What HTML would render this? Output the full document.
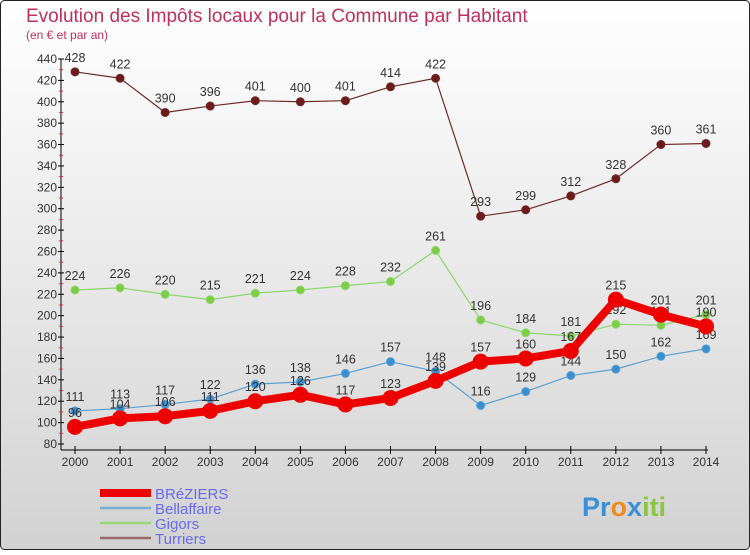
<!DOCTYPE html>
<html><head><meta charset="utf-8"><style>
body{margin:0;width:750px;height:550px;overflow:hidden;font-family:"Liberation Sans",sans-serif}
</style></head><body>
<svg width="750" height="550" xmlns="http://www.w3.org/2000/svg">
<defs><linearGradient id="bg" x1="0" y1="0" x2="0" y2="1"><stop offset="0" stop-color="#ffffff"/><stop offset="1" stop-color="#d2d2d2"/></linearGradient></defs>
<rect x="0.5" y="0.5" width="749" height="549" rx="4" fill="url(#bg)" stroke="#222"/>
<text x="26" y="22" font-size="19" fill="#c0305a">Evolution des Impôts locaux pour la Commune par Habitant</text>
<text x="26" y="39" font-size="12" fill="#c0305a">(en € et par an)</text>
<g id="axes"></g>
<g id="series"></g>
<g id="legend"></g>
<text x="582" y="516" font-size="27" font-weight="bold" fill="#3b8fd6">Pr<tspan fill="#f08c1c">o</tspan><tspan fill="#3b8fd6">x</tspan><tspan fill="#8cc63f">iti</tspan></text>
</svg>
<script>
const years=[2000,2001,2002,2003,2004,2005,2006,2007,2008,2009,2010,2011,2012,2013,2014];
const yTicks=[80,100,120,140,160,180,200,220,240,260,280,300,320,340,360,380,400,420,440];
const breziers=[96,104,106,111,120,126,117,123,139,157,160,167,215,201,190];
const bellaffaire=[111,113,117,122,136,138,146,157,148,116,129,144,150,162,169];
const gigors=[224,226,220,215,221,224,228,232,261,196,184,181,192,191,201];
const turriers=[428,422,390,396,401,400,401,414,422,293,299,312,328,360,361];
const NS="http://www.w3.org/2000/svg";
const xS=i=>75+i*(706-75)/(years.length-1);
const yS=v=>444-(v-80)*(444-59)/360;
function mk(t,a,p){const e=document.createElementNS(NS,t);for(const k in a)e.setAttribute(k,a[k]);p.appendChild(e);return e;}
const ax=document.getElementById('axes');
let l=mk('line',{x1:61,y1:59,x2:61,y2:450,stroke:'#000'},ax);


l=mk('line',{x1:61,y1:450,x2:708,y2:450,stroke:'#000'},ax);


yTicks.forEach(v=>{const y=yS(v);mk('line',{x1:58,y1:y,x2:64,y2:y,stroke:'#000'},ax);
 if(v<440)mk('line',{x1:59,y1:yS(v+10),x2:63,y2:yS(v+10),stroke:'#e03030'},ax);
 const t=mk('text',{x:57,y:y+4,'font-size':12,'text-anchor':'end',fill:'#333'},ax);t.textContent=v;
 
 });
years.forEach((yr,i)=>{const x=xS(i);mk('line',{x1:x,y1:446,x2:x,y2:454,stroke:'#000'},ax);
 const t=mk('text',{x:x,y:466,'font-size':12,'text-anchor':'middle',fill:'#333'},ax);t.textContent=yr;
 
 });
const sg=document.getElementById('series');
function draw(vals,color,dot,w,r,name){const g=mk('g',{},sg);
 
 
 const p=mk('polyline',{points:vals.map((v,i)=>xS(i)+','+yS(v)).join(' '),fill:'none',stroke:color,'stroke-width':w,'stroke-linejoin':'round'},g);
 
 
 vals.forEach((v,i)=>{const c=mk('circle',{cx:xS(i),cy:yS(v),r:r,fill:dot,stroke:color,'stroke-width':1},g);
  
  
  const t=mk('text',{x:xS(i),y:yS(v)-10,'font-size':12.5,'text-anchor':'middle',fill:'#333'},g);t.textContent=v;
  
  });}
draw(turriers,'#6e2a2a','#6e1a1a',1.2,4,'turriers');
draw(gigors,'#8cd66a','#7ccc44',1.2,4,'gigors');
draw(bellaffaire,'#5a9fd0','#3a8fd0',1.2,4,'bellaffaire');
draw(breziers,'#ee0000','#ee0000',8,7.5,'breziers');
const lg=document.getElementById('legend');
[['BRéZIERS','#ee0000',8],['Bellaffaire','#7aaed0',2.5],['Gigors','#99d67a',2.5],['Turriers','#9a6a6a',2.5]].forEach((d,i)=>{
 const y=493+i*15;const g=mk('g',{},lg);
 
 
 mk('line',{x1:100,y1:y,x2:151,y2:y,stroke:d[1],'stroke-width':d[2]},g);
 const t=mk('text',{x:155,y:y+6,'font-size':15,fill:'#6a6af0'},g);t.textContent=d[0];});
</script>
</body></html>
